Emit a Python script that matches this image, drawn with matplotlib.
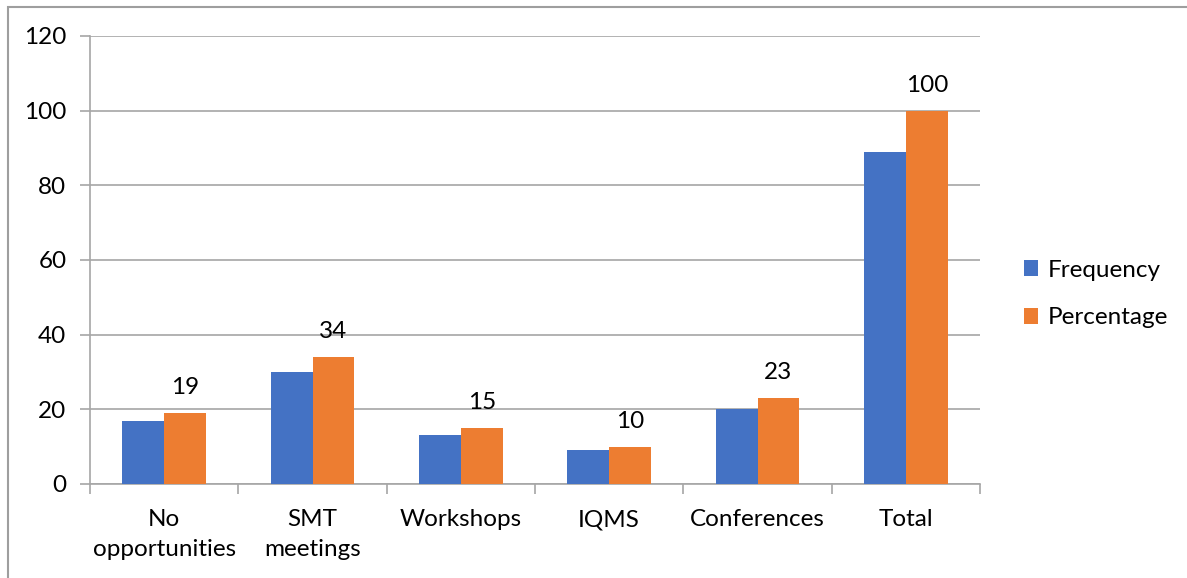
import matplotlib
matplotlib.use("Agg")
import matplotlib.pyplot as plt
import numpy as np
from matplotlib.patches import Rectangle

categories = ["No\nopportunities", "SMT\nmeetings", "Workshops", "IQMS", "Conferences", "Total"]
frequency = [17, 30, 13, 9, 20, 89]
percentage = [19, 34, 15, 10, 23, 100]
y_ticks = [0, 20, 40, 60, 80, 100, 120]

blue = "#4472C4"
orange = "#ED7D31"
grid_col = "#A6A6A6"
fs = 17.5

plt.rcParams["font.family"] = ["Lato", "DejaVu Sans"]

W, H = 1187, 578
fig = plt.figure(figsize=(W / 100, H / 100), dpi=100)

# outer chart frame (left and top edges visible)
fig.patches.append(Rectangle((7.5 / W, -0.01), 1.02, 1 - 6.5 / H + 0.01,
                             transform=fig.transFigure, fill=False,
                             edgecolor="#9E9E9E", linewidth=1.5))

ax = fig.add_axes([90 / W, 1 - 484 / H, 890 / W, 448 / H])

x = np.arange(len(categories))
w = 0.283
ax.bar(x - w / 2, frequency, w, color=blue, label="Frequency", zorder=3)
ax.bar(x + w / 2, percentage, w, color=orange, label="Percentage", zorder=3)

for xi, v in zip(x, percentage):
    ax.text(xi + w / 2, v + 4.0, str(v), ha="center", va="bottom",
            fontsize=fs, color="black")

ax.set_xlim(-0.5, len(categories) - 0.5)
ax.set_ylim(0, 120)
ax.set_yticks(y_ticks)
ax.set_yticklabels([str(t) for t in y_ticks], fontsize=fs)
ax.yaxis.grid(True, color=grid_col, linewidth=1.2, zorder=0)
ax.set_axisbelow(True)

ax.set_xticks(x)
ax.set_xticklabels(categories, fontsize=fs, linespacing=1.5)
ax.tick_params(axis="x", length=0, pad=18)
ax.set_xticks(np.arange(-0.5, len(categories)), minor=True)
ax.tick_params(axis="x", which="minor", length=7, color=grid_col, width=1.2)
ax.tick_params(axis="y", length=7, color=grid_col, width=1.2, pad=10)

for s in ["top", "right"]:
    ax.spines[s].set_visible(False)
for s in ["left", "bottom"]:
    ax.spines[s].set_color(grid_col)
    ax.spines[s].set_linewidth(1.2)

fig.legend(loc="center left", bbox_to_anchor=(1002 / W, 1 - 294 / H),
           frameon=False, fontsize=fs, handlelength=0.6, handleheight=0.6,
           handletextpad=0.4, labelspacing=1.1)

fig.savefig("out.png", dpi=100)
